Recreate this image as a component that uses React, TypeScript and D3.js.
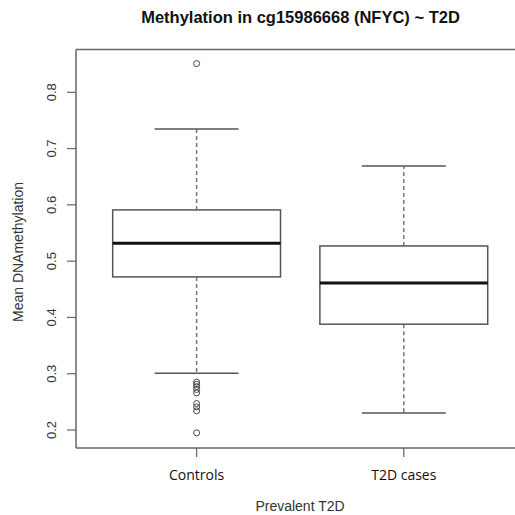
import React from "react";
import * as d3 from "d3";

const categories = ["Controls", "T2D cases"];
const q1 = [0.472, 0.388];
const median = [0.532, 0.461];
const q3 = [0.591, 0.527];
const whiskerLow = [0.301, 0.23];
const whiskerHigh = [0.735, 0.669];
const outliers: number[][] = [
  [0.851, 0.285, 0.281, 0.277, 0.272, 0.266, 0.247, 0.241, 0.234, 0.195],
  [],
];
const yTicks = [0.2, 0.3, 0.4, 0.5, 0.6, 0.7, 0.8];

const W = 515;
const H = 515;
const frameLeft = 76;
const frameTop = 49.5;
const frameBottom = 448;

export default function App() {
  const x = d3.scaleBand<string>().domain(categories).range([93, 507.4]).padding(0);
  const y = d3.scaleLinear().domain([0.2, 0.8]).range([430, 92.3]);
  const bw = x.bandwidth() * 0.81;
  const cap = bw / 2;
  const axisColor = "#666";
  const boxColor = "#555";

  return (
    <svg width={W} height={H} style={{ position: "absolute", left: 0, top: 0 }}>
      <rect x={0} y={0} width={W} height={H} fill="#fff" />
      <text x={300.5} y={22.5} textAnchor="middle" fontFamily="Liberation Sans, Arial, sans-serif" fontWeight="bold" fontSize={16.5} fill="#111">
        Methylation in cg15986668 (NFYC) ~ T2D
      </text>
      {/* frame */}
      <line x1={frameLeft} x2={W} y1={frameTop} y2={frameTop} stroke={axisColor} strokeWidth={1.5} />
      <line x1={frameLeft} x2={W} y1={frameBottom} y2={frameBottom} stroke={axisColor} strokeWidth={1.5} />
      <line x1={frameLeft} x2={frameLeft} y1={frameTop} y2={frameBottom} stroke={axisColor} strokeWidth={1.5} />
      {/* y axis */}
      {yTicks.map((t) => (
        <g key={t}>
          <line x1={67} x2={frameLeft} y1={y(t)} y2={y(t)} stroke={axisColor} strokeWidth={1.2} />
          <text
            transform={`translate(${56},${y(t)}) rotate(-90)`}
            textAnchor="middle"
            fontFamily="Liberation Sans, Arial, sans-serif"
            fontSize={13}
            fill="#333"
          >
            {t.toFixed(1)}
          </text>
        </g>
      ))}
      <text
        transform={`translate(${23},${252}) rotate(-90)`}
        textAnchor="middle"
        fontFamily="Liberation Sans, Arial, sans-serif"
        fontSize={14}
        fill="#333"
      >
        Mean DNAmethylation
      </text>
      {/* x axis */}
      {categories.map((c) => {
        const cx = (x(c) as number) + x.bandwidth() / 2;
        return (
          <g key={c}>
            <line x1={cx} x2={cx} y1={frameBottom} y2={457} stroke={axisColor} strokeWidth={1.2} />
            <text x={cx} y={480} textAnchor="middle" fontFamily="Open Sans, sans-serif" fontSize={14} fill="#111">
              {c}
            </text>
          </g>
        );
      })}
      <text x={300} y={511} textAnchor="middle" fontFamily="Liberation Sans, Arial, sans-serif" fontSize={14} fill="#333">
        Prevalent T2D
      </text>
      {/* boxes */}
      {categories.map((c, i) => {
        const cx = (x(c) as number) + x.bandwidth() / 2;
        return (
          <g key={c}>
            <line x1={cx} x2={cx} y1={y(q3[i])} y2={y(whiskerHigh[i])} stroke="#777" strokeWidth={1.5} strokeDasharray="4,3" />
            <line x1={cx} x2={cx} y1={y(q1[i])} y2={y(whiskerLow[i])} stroke="#777" strokeWidth={1.5} strokeDasharray="4,3" />
            <line x1={cx - cap / 2} x2={cx + cap / 2} y1={y(whiskerHigh[i])} y2={y(whiskerHigh[i])} stroke={boxColor} strokeWidth={1.5} />
            <line x1={cx - cap / 2} x2={cx + cap / 2} y1={y(whiskerLow[i])} y2={y(whiskerLow[i])} stroke={boxColor} strokeWidth={1.5} />
            <rect x={cx - bw / 2} y={y(q3[i])} width={bw} height={y(q1[i]) - y(q3[i])} fill="#fff" stroke={boxColor} strokeWidth={1.5} />
            <line x1={cx - bw / 2} x2={cx + bw / 2} y1={y(median[i])} y2={y(median[i])} stroke="#111" strokeWidth={3} />
            {outliers[i].map((o, k) => (
              <circle key={k} cx={cx} cy={y(o)} r={3} fill="none" stroke="#444" strokeWidth={1} />
            ))}
          </g>
        );
      })}
    </svg>
  );
}
